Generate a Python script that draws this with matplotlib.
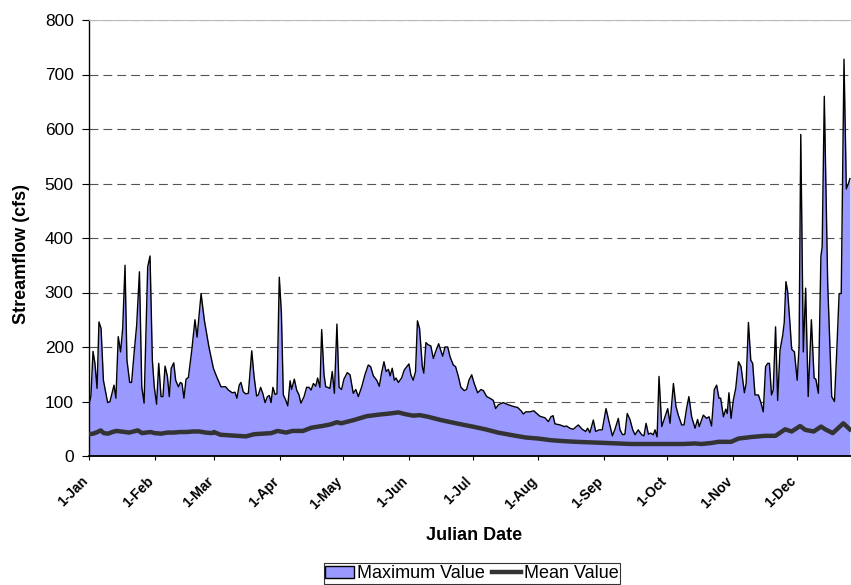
import matplotlib
matplotlib.use("Agg")
import matplotlib.pyplot as plt
from matplotlib.patches import Patch
from matplotlib.lines import Line2D
from matplotlib.transforms import ScaledTranslation

plt.rcParams["font.family"] = ["Liberation Sans", "DejaVu Sans"]

# daily maximum streamflow (day of year from 1-Jan, cfs)
max_day = [0, 0.9, 1.9, 2.8, 3.8, 4.7, 5.7, 6.8, 8.8, 9.9, 11.8, 12.7, 13.8, 14.9, 15.9,
           17, 17.9, 19.2, 20.1, 21.4, 22.5, 23.8, 24.9, 26, 27.7, 28.8, 29.9, 30.8,
           31.9, 32.9, 34, 34.9, 35.9, 37, 37.9, 38.8, 40, 40.9, 42.2, 43.1, 43.9,
           44.8, 45.8, 46.9, 48.5, 50, 51, 52.9, 54.4, 56.6, 58.7, 60.2, 62.3, 64.5,
           65.8, 67.6, 68.9, 69.8, 70.9, 71.7, 72.8, 73.9, 75.2, 76.8, 77.9, 79.1,
           79.9, 81, 82, 83.1, 84.2, 85.1, 85.9, 86.8, 87.8, 88.7, 89.8, 90.8, 91.7,
           92.8, 93.8, 94.9, 95.6, 96.9, 98, 99.1, 100, 101.5, 102.7, 103.8, 104.8,
           105.9, 107, 107.9, 109, 109.8, 110.9, 111.7, 112.6, 113.7, 114.8, 115.8,
           117, 118, 119.2, 120.3, 121.9, 123.2, 124.7, 125.9, 127.1, 128.7, 130.3,
           131.8, 132.9, 134.2, 135.8, 137, 138.1, 139.2, 140.2, 141.3, 142.1, 143.1,
           144.1, 144.9, 146, 147.5, 148.8, 151, 151.9, 153, 154.1, 155, 156, 157.3,
           158, 159, 160.1, 161.3, 162.5, 163.8, 165, 166, 166.9, 168, 169.3, 170.4,
           171.9, 173, 174.3, 175.5, 177.1, 178.2, 179.3, 180.6, 181.8, 183.4, 185,
           186.1, 187.7, 189.2, 190.8, 191.9, 193.2, 195.5, 197.9, 200.2, 202.3,
           203.9, 205, 206.1, 208.2, 209.9, 211.3, 212.8, 215.2, 216.8, 218, 219,
           219.9, 222.3, 224.3, 225.4, 226.9, 228.5, 230.9, 232.8, 234.4, 235.3,
           236.4, 238, 239.1, 240.7, 242.2, 244, 245.4, 247, 248.2, 249.8, 250.6,
           251.8, 252.9, 254, 255.3, 256.6, 257.7, 259.2, 260.8, 261.9, 262.9, 264,
           265.1, 266.3, 267.1, 268.1, 269, 270.3, 271.8, 273.1, 274.2, 275.8, 277,
           278.1, 279.7, 280.8, 282, 283.1, 284.4, 286, 287.2, 288, 289.9, 291.5,
           292.6, 293.8, 295.1, 296.2, 297.3, 298.1, 299.4, 300.5, 301.2, 302, 303,
           304.1, 305.2, 306.5, 307.7, 309.3, 310.1, 311.2, 312.3, 313.2, 314.3,
           315.9, 317.1, 318.2, 319.3, 320.3, 321.1, 322.1, 322.9, 324, 325, 326.1,
           327.4, 328.1, 328.9, 329.7, 330.8, 331.6, 332.9, 334.2, 335.1, 335.9,
           337.1, 338.2, 339.4, 340.9, 342.2, 343, 344.2, 345.4, 346, 347, 348.6,
           350.5, 351.8, 352.9, 354, 355, 356.3, 357.4, 358.4, 359.1]
max_flow = [95, 110, 192, 170, 124, 246, 234, 139, 98, 100, 130, 106, 219, 191, 234,
            350, 176, 135, 135, 194, 240, 338, 127, 97, 347, 367, 176, 127,
            95, 170, 109, 109, 165, 146, 109, 161, 171, 139, 127, 135, 133,
            106, 141, 144, 194, 250, 218, 298, 250, 200, 161, 146, 127, 127,
            121, 116, 117, 106, 130, 135, 118, 114, 115, 193, 146, 110,
            112, 126, 115, 98, 109, 111, 98, 126, 113, 114, 328, 262, 112,
            103, 92, 138, 122, 141, 121, 112, 97, 109, 126, 126, 121,
            133, 128, 143, 126, 232, 150, 127, 126, 124, 155, 115,
            242, 126, 122, 141, 153, 149, 115, 122, 109, 127, 150,
            167, 164, 147, 139, 128, 153, 173, 155, 159, 147, 161,
            139, 143, 135, 143, 158, 169, 149, 139, 155, 248, 234, 164,
            152, 208, 204, 202, 179, 194, 206, 194, 183, 200, 200, 182,
            167, 164, 146, 126, 120, 122, 139, 149, 133, 116, 122,
            120, 109, 106, 102, 87, 94, 98, 94, 91, 89,
            83, 77, 81, 81, 83, 78, 73, 70, 63, 72, 74,
            59, 57, 54, 55, 51, 49, 57, 49, 45, 51,
            43, 66, 45, 48, 48, 87, 63, 37, 49, 69, 48,
            39, 40, 78, 67, 48, 39, 48, 39, 37, 60, 40,
            42, 39, 48, 35, 146, 54, 72, 87, 60, 133, 91,
            75, 57, 57, 87, 109, 72, 51, 67, 54, 75, 69,
            72, 55, 122, 130, 106, 106, 72, 86, 78, 116, 69,
            103, 124, 173, 164, 116, 133, 245, 176, 170, 112,
            112, 98, 81, 164, 170, 170, 112, 121, 237, 102, 194,
            222, 245, 320, 302, 243, 196, 191, 139, 200, 590,
            191, 308, 109, 250, 143, 141, 115, 366, 384, 660, 317,
            109, 100, 194, 298, 298, 728, 490, 500, 509]

# daily mean streamflow
mean_day = [0, 2, 4, 5.5, 7, 9, 11, 13, 15, 17, 19, 21, 23, 25, 27, 29, 31, 34, 37,
            40, 43, 46, 49, 52, 55, 58, 59, 62, 66, 70, 74, 78, 82, 86, 89, 93, 96,
            101, 105, 110, 114, 117, 119, 125, 131, 137, 142, 146, 149, 153, 156,
            160, 166, 172, 177, 181, 187, 193, 200, 206, 212, 218, 225, 230, 240,
            256, 272, 280, 286, 289, 294, 297, 303, 306.5, 313, 319, 324, 328.5,
            331.6, 335.6, 338, 342, 345.5, 347.4, 351, 356, 359]
mean_flow = [40, 41, 44, 47, 42, 41, 44, 46, 45, 44, 43, 45, 47, 42, 43, 44, 42, 41, 43,
             43, 44, 44, 45, 45, 43, 42, 44, 39, 38, 37, 36, 40, 41, 42, 46, 43, 46,
             46, 52, 55, 58, 62, 60, 66, 73, 76, 78, 80, 77, 74, 75,
             72, 66, 61, 57, 54, 49, 43, 38, 34, 32, 29, 27, 26, 24.5,
             22, 22, 22, 23, 22, 24, 26, 26, 32, 35, 37, 37, 49,
             45, 55, 48, 45, 54, 49, 42, 60, 49]

tick_days = [0, 31, 59, 90, 120, 151, 181, 212, 243, 273, 304, 334]
tick_labels = ["1-Jan", "1-Feb", "1-Mar", "1-Apr", "1-May", "1-Jun", "1-Jul",
               "1-Aug", "1-Sep", "1-Oct", "1-Nov", "1-Dec"]

fill_color = "#9999FF"
mean_color = "#333333"

fig = plt.figure(figsize=(8.51, 5.85), dpi=100)
ax = fig.add_axes([89 / 851, 1 - 456 / 585, (851 - 89) / 851, (456 - 20) / 585])

ax.fill_between(max_day, max_flow, 0, color=fill_color, lw=0, zorder=2)
ax.plot(max_day, max_flow, color="black", lw=1.0, zorder=3)
ax.plot(mean_day, mean_flow, color=mean_color, lw=3.2, zorder=4)

ax.set_xlim(0, (851 - 89) / 2.119)
ax.set_ylim(0, 800)
ax.set_yticks(range(0, 801, 100))
ax.set_xticks(tick_days)
ax.set_xticklabels(tick_labels, rotation=45, ha="right", va="top",
                   rotation_mode="anchor", fontsize=10, fontweight="bold")
ax.tick_params(axis="y", labelsize=12.5, length=5, width=0.8, pad=6, direction="out")
ax.tick_params(axis="x", length=3, width=0.8, pad=10, direction="out")
shift = ScaledTranslation(-8 / 100, 0, fig.dpi_scale_trans)
for lbl in ax.get_xticklabels():
    lbl.set_transform(lbl.get_transform() + shift)

for v in range(100, 801, 100):
    ax.axhline(v, color="#555555", lw=0.8, dashes=(8, 4.5), zorder=1)

ax.spines["right"].set_visible(False)
ax.spines["top"].set_color("#bbbbbb")
ax.spines["top"].set_linewidth(0.8)
ax.spines["left"].set_linewidth(1.0)
ax.spines["bottom"].set_linewidth(1.3)

fig.text(22 / 851, 1 - 254 / 585, "Streamflow (cfs)", rotation=90, ha="center",
         va="center", fontsize=13, fontweight="bold")
fig.text(474 / 851, 1 - 535 / 585, "Julian Date", ha="center", va="center",
         fontsize=13, fontweight="bold")

handles = [Patch(facecolor=fill_color, edgecolor="black", lw=1.0),
           Line2D([], [], color=mean_color, lw=3.2)]
leg = fig.legend(handles, ["Maximum Value", "Mean Value"], ncol=2, loc="lower center",
                 bbox_to_anchor=(472 / 851, 1 / 585), fontsize=13, frameon=True,
                 fancybox=False, edgecolor="black", borderpad=0.1,
                 handlelength=1.6, handleheight=0.7, handletextpad=0.15,
                 columnspacing=0.4, borderaxespad=0)
leg.get_frame().set_linewidth(0.8)

fig.savefig("out.png", dpi=100)
